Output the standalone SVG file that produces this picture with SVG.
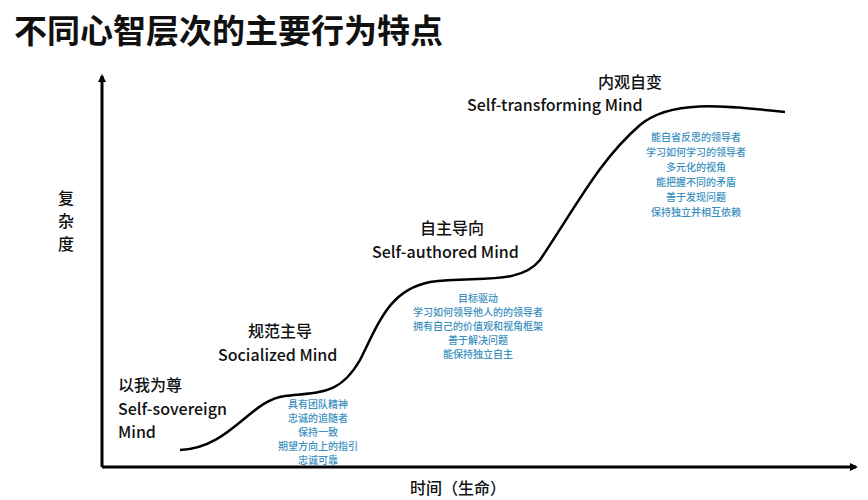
<svg xmlns="http://www.w3.org/2000/svg" width="868" height="500" viewBox="0 0 868 500">
<style>
text{font-family:"Noto Sans CJK SC","Noto Sans",sans-serif;fill:#111}
.t{font-size:33px;font-weight:bold}
.h{font-size:16px;font-weight:500}
.s{font-size:10px;fill:#3a8fc0;text-anchor:middle;font-weight:500}
.ax{stroke:#000;stroke-width:3;fill:none}
</style>
<defs><marker id="a" markerWidth="8" markerHeight="8" refX="6" refY="4" orient="auto" markerUnits="userSpaceOnUse"><path d="M0,0L8,4L0,8z" fill="#000"/></marker></defs>
<rect width="868" height="500" fill="#fff"/>
<text class="t" x="14" y="43">不同心智层次的主要行为特点</text>
<g id="connectors">
<path class="ax" d="M102,467V76" marker-end="url(#a)"/>
<path class="ax" d="M102,467H856" marker-end="url(#a)"/>
<path d="M180,450C230,448 250,400 285,396C320,392 340,395 360,360C380,320 390,290 430,282C480,276 520,285 540,260C580,200 600,160 640,125C670,100 720,105 785,112" fill="none" stroke="#000" stroke-width="2.5"/>
</g>
<g id="yl"><text class="h" font-weight="bold" x="58" y="204">复</text><text class="h" font-weight="bold" x="58" y="227">杂</text><text class="h" font-weight="bold" x="58" y="250">度</text></g>
<g id="xl"><text class="h" font-weight="bold" x="410" y="494">时间（生命）</text></g>
<g id="n1"><text class="h" x="118" y="391">以我为尊</text><text class="h" x="118" y="415">Self-sovereign</text><text class="h" x="118" y="438">Mind</text></g>
<g id="n2"><text class="h" x="248" y="337">规范主导</text><text class="h" x="218" y="361">Socialized Mind</text>
<text class="s" x="318" y="408">具有团队精神</text><text class="s" x="318" y="422">忠诚的追随者</text><text class="s" x="318" y="436">保持一致</text><text class="s" x="318" y="450">期望方向上的指引</text><text class="s" x="318" y="464">忠诚可靠</text></g>
<g id="n3"><text class="h" x="420" y="234">自主导向</text><text class="h" x="372" y="258">Self-authored Mind</text>
<text class="s" x="478" y="302">目标驱动</text><text class="s" x="478" y="316">学习如何领导他人的的领导者</text><text class="s" x="478" y="330">拥有自己的价值观和视角框架</text><text class="s" x="478" y="344">善于解决问题</text><text class="s" x="478" y="358">能保持独立自主</text></g>
<g id="n4"><text class="h" x="598" y="88">内观自变</text><text class="h" x="467" y="111">Self-transforming Mind</text>
<text class="s" x="696" y="141">能自省反思的领导者</text><text class="s" x="696" y="156">学习如何学习的领导者</text><text class="s" x="696" y="171">多元化的视角</text><text class="s" x="696" y="186">能把握不同的矛盾</text><text class="s" x="696" y="201">善于发现问题</text><text class="s" x="696" y="216">保持独立并相互依赖</text></g>
</svg>
